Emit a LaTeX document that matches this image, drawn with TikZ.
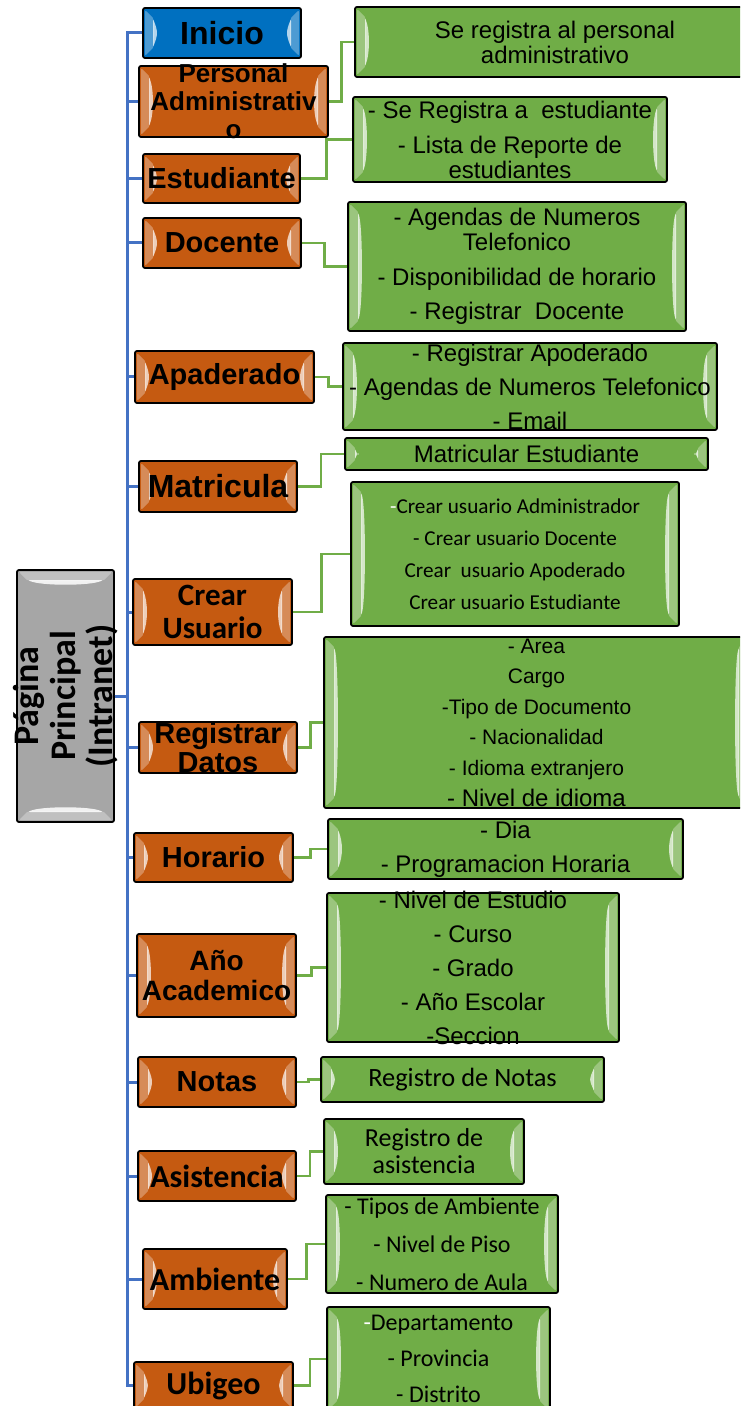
\documentclass[tikz,border=0pt]{standalone}
\usepackage{fontspec}
\setmainfont{Liberation Sans}
\setsansfont{Liberation Sans}
\newfontfamily\calibri{Carlito}
\usepackage{tikz}
\usetikzlibrary{fit, calc}
\definecolor{naranja}{HTML}{C55A11}
\definecolor{azul}{HTML}{0070C0}
\definecolor{verde}{HTML}{70AD47}
\definecolor{gris}{HTML}{A6A6A6}
\definecolor{linea}{HTML}{4472C4}

\begin{document}
\begin{tikzpicture}[font=\sffamily, x=0.5pt, y=-0.5pt]
\tikzset{bisel/.style={path picture={
  \fill[white, opacity=.3] ([shift={(2,2)}]path picture bounding box.north west) -- ++(9,9)
     -- ([shift={(11,-11)}]path picture bounding box.south west) -- ++(-9,9) -- cycle;
  \fill[white, opacity=.7] ([shift={(10,11)}]path picture bounding box.north west)
     .. controls +(5,12) and +(5,-12) .. ([shift={(10,-11)}]path picture bounding box.south west) -- cycle;
  \fill[white, opacity=.3] ([shift={(-2,2)}]path picture bounding box.north east) -- ++(-9,9)
     -- ([shift={(-11,-11)}]path picture bounding box.south east) -- ++(9,9) -- cycle;
  \fill[white, opacity=.7] ([shift={(-10,11)}]path picture bounding box.north east)
     .. controls +(-5,12) and +(-5,-12) .. ([shift={(-10,-11)}]path picture bounding box.south east) -- cycle;
}}}
\tikzset{biselh/.style={path picture={
  \fill[white, opacity=.3] ([shift={(2,2)}]path picture bounding box.north west) -- ++(9,9)
     -- ([shift={(-11,11)}]path picture bounding box.north east) -- ++(9,-9) -- cycle;
  \fill[white, opacity=.85] ([shift={(11,10)}]path picture bounding box.north west)
     .. controls +(12,6) and +(-12,6) .. ([shift={(-11,10)}]path picture bounding box.north east) -- cycle;
  \fill[white, opacity=.3] ([shift={(2,-2)}]path picture bounding box.south west) -- ++(9,-9)
     -- ([shift={(-11,-11)}]path picture bounding box.south east) -- ++(9,9) -- cycle;
  \fill[white, opacity=.85] ([shift={(11,-10)}]path picture bounding box.south west)
     .. controls +(12,-6) and +(-12,-6) .. ([shift={(-11,-10)}]path picture bounding box.south east) -- cycle;
}}}
\tikzset{codo/.style={to path={-| ($(\tikztostart)!.5!(\tikztotarget)$) |- (\tikztotarget)}}}
\tikzstyle{caja}=[draw=black, line width=0.9pt, rounded corners=1pt, inner sep=0pt, bisel]
\tikzstyle{nodo}=[caja, fill=naranja]
\tikzstyle{hoja}=[caja, fill=verde]
\tikzstyle{raiz}=[draw=black, line width=0.9pt, rounded corners=1pt, inner sep=0pt, fill=gris, biselh]
\tikzstyle{ntxt}=[align=center, inner sep=0pt, font=\sffamily\bfseries\fontsize{14.5}{14.5}\selectfont]
\tikzstyle{ctxt}=[align=center, inner sep=0pt, font=\calibri\bfseries\fontsize{16}{16.5}\selectfont]
\tikzstyle{htxt}=[align=center, inner sep=0pt, font=\sffamily\fontsize{12}{12.5}\selectfont]
\tikzstyle{rama}=[draw=linea, line width=1.5pt]
\tikzstyle{enlace}=[draw=verde, line width=1.2pt, codo]

\useasboundingbox (0,0) rectangle (740,1406);
\clip (0,0) rectangle (740,1406);

% raiz
\node[raiz, fit={(17,570) (114,822)}] (raiz) {};
\node[ctxt, rotate=90, font=\calibri\bfseries\fontsize{18}{18.5}\selectfont] (t-raiz) at (raiz) {Página\\Principal\\(Intranet)};
\coordinate (tronco) at (127,696);

% menu
\node[caja, fill=azul, fit={(143,8) (301,58)}] (inicio) {};
\node[ntxt, font=\sffamily\bfseries\fontsize{16}{16}\selectfont] (t-inicio) at (inicio) {Inicio};
\node[nodo, fit={(139,66) (328,137)}] (personal) {};
\node[ntxt, font=\sffamily\bfseries\fontsize{13}{14}\selectfont] (t-personal) at (personal) {Personal\\Administrativ\\o};
\node[nodo, fit={(143,154) (300,203)}] (estudiante) {};
\node[ntxt] (t-estudiante) at (estudiante) {Estudiante};
\node[nodo, fit={(143,218) (301,268)}] (docente) {};
\node[ntxt] (t-docente) at (docente) {Docente};
\node[nodo, fit={(135,351) (314,403)}] (apoderado) {};
\node[ntxt] (t-apoderado) at (apoderado) {Apaderado};
\node[nodo, fit={(139,461) (297,512)}] (matricula) {};
\node[ntxt, font=\sffamily\bfseries\fontsize{16}{16}\selectfont] (t-matricula) at (matricula) {Matricula};
\node[nodo, fit={(133,579) (292,645)}] (usuario) {};
\node[ctxt, font=\calibri\bfseries\fontsize{15.5}{16.5}\selectfont] (t-usuario) at (usuario) {Crear\\Usuario};
\node[nodo, fit={(139,722) (297,773)}] (datos) {};
\node[ntxt] (t-datos) at (datos) {Registrar\\Datos};
\node[nodo, fit={(134,833) (293,882)}] (horario) {};
\node[ntxt] (t-horario) at (horario) {Horario};
\node[nodo, fit={(137,934) (296,1017)}] (anio) {};
\node[ntxt, font=\sffamily\bfseries\fontsize{14}{15}\selectfont] (t-anio) at (anio) {Año\\Academico};
\node[nodo, fit={(138,1057) (296,1107)}] (notas) {};
\node[ntxt] (t-notas) at (notas) {Notas};
\node[nodo, fit={(138,1151) (296,1201)}] (asistencia) {};
\node[ctxt] (t-asistencia) at (asistencia) {Asistencia};
\node[nodo, fit={(143,1249) (287,1309)}] (ambiente) {};
\node[ctxt] (t-ambiente) at (ambiente) {Ambiente};
\node[nodo, fit={(134,1362) (293,1409)}] (ubigeo) {};
\node[ctxt] (t-ubigeo) at (ubigeo) {Ubigeo};

% detalle
\node[hoja, fit={(355,7) (755,77)}] (g-personal) {};
\node[htxt] (t-g-personal) at (g-personal) {Se registra al personal\\administrativo};
\node[hoja, fit={(353,97) (667,182)}] (g-estudiante) {};
\node[htxt] (t-g-estudiante) at (g-estudiante) {- Se Registra a\ \ estudiante\\[5pt]- Lista de Reporte de\\estudiantes};
\node[hoja, fit={(348,202) (686,331)}] (g-docente) {};
\node[htxt] (t-g-docente) at (g-docente) {- Agendas de Numeros\\Telefonico\\[5pt]- Disponibilidad de horario\\[4.5pt]- Registrar\ \ Docente};
\node[hoja, fit={(343,343) (717,430)}] (g-apoderado) {};
\node[htxt, font=\sffamily\fontsize{12}{17}\selectfont] (t-g-apoderado) at (g-apoderado) {- Registrar Apoderado\\- Agendas de Numeros Telefonico\\- Email};
\node[hoja, fit={(345,438) (708,470)}] (g-matricula) {};
\node[htxt] (t-g-matricula) at (g-matricula) {Matricular Estudiante};
\node[hoja, fit={(351,482) (679,626)}] (g-usuario) {};
\node[htxt, font=\calibri\fontsize{10.6}{16}\selectfont] (t-g-usuario) at (g-usuario) {{\color{white}-}Crear usuario Administrador\\- Crear usuario Docente\\Crear\ \ usuario Apoderado\\Crear usuario Estudiante};
\node[hoja, fit={(324,637) (749,808)}] (g-datos) {};
\node[htxt, font=\sffamily\fontsize{10.5}{15.3}\selectfont] (t-g-datos) at (g-datos) {- Area\\Cargo\\-Tipo de Documento\\- Nacionalidad\\- Idioma extranjero\\{\fontsize{12}{15.3}\selectfont - Nivel de idioma}};
\node[hoja, fit={(328,819) (683,879)}] (g-horario) {};
\node[htxt, font=\sffamily\fontsize{12}{17}\selectfont] (t-g-horario) at (g-horario) {- Dia\\- Programacion Horaria};
\node[hoja, fit={(327,893) (619,1042)}] (g-anio) {};
\node[htxt, font=\sffamily\fontsize{12}{17}\selectfont] (t-g-anio) at (g-anio) {- Nivel de Estudio\\- Curso\\- Grado\\- Año Escolar\\-Seccion};
\node[hoja, fit={(321,1057) (604,1102)}] (g-notas) {};
\node[htxt, font=\calibri\fontsize{13.2}{13.5}\selectfont] (t-g-notas) at (g-notas) {Registro de Notas};
\node[hoja, fit={(324,1119) (524,1184)}] (g-asistencia) {};
\node[htxt, font=\calibri\fontsize{13}{13.5}\selectfont] (t-g-asistencia) at (g-asistencia) {Registro de\\asistencia};
\node[hoja, fit={(326,1195) (558,1293)}] (g-ambiente) {};
\node[htxt, font=\calibri\fontsize{12}{19}\selectfont] (t-g-ambiente) at (g-ambiente) {- Tipos de Ambiente\\- Nivel de Piso\\- Numero de Aula};
\node[hoja, fit={(327,1307) (550,1411)}] (g-ubigeo) {};
\node[htxt, font=\calibri\fontsize{12}{18}\selectfont] (t-g-ubigeo) at (g-ubigeo) {{\color{white}-}Departamento\\- Provincia\\- Distrito};

% ramas
\draw[rama] (raiz.east) -- (tronco) |- (inicio.west);
\draw[rama] (raiz.east) -- (tronco) |- (personal.west);
\draw[rama] (raiz.east) -- (tronco) |- (estudiante.west);
\draw[rama] (raiz.east) -- (tronco) |- (docente.west);
\draw[rama] (raiz.east) -- (tronco) |- (apoderado.west);
\draw[rama] (raiz.east) -- (tronco) |- (matricula.west);
\draw[rama] (raiz.east) -- (tronco) |- (usuario.west);
\draw[rama] (raiz.east) -- (tronco) |- (datos.west);
\draw[rama] (raiz.east) -- (tronco) |- (horario.west);
\draw[rama] (raiz.east) -- (tronco) |- (anio.west);
\draw[rama] (raiz.east) -- (tronco) |- (notas.west);
\draw[rama] (raiz.east) -- (tronco) |- (asistencia.west);
\draw[rama] (raiz.east) -- (tronco) |- (ambiente.west);
\draw[rama] (raiz.east) -- (tronco) |- (ubigeo.west);

\draw[enlace] (personal.east) to (g-personal.west);
\draw[enlace] (estudiante.east) to (g-estudiante.west);
\draw[enlace] (docente.east) to (g-docente.west);
\draw[enlace] (apoderado.east) to (g-apoderado.west);
\draw[enlace] (matricula.east) to (g-matricula.west);
\draw[enlace] (usuario.east) to (g-usuario.west);
\draw[enlace] (datos.east) to (g-datos.west);
\draw[enlace] (horario.east) to (g-horario.west);
\draw[enlace] (anio.east) to (g-anio.west);
\draw[enlace] (notas.east) to (g-notas.west);
\draw[enlace] (asistencia.east) to (g-asistencia.west);
\draw[enlace] (ambiente.east) to (g-ambiente.west);
\draw[enlace] (ubigeo.east) to (g-ubigeo.west);
\end{tikzpicture}
\end{document}
